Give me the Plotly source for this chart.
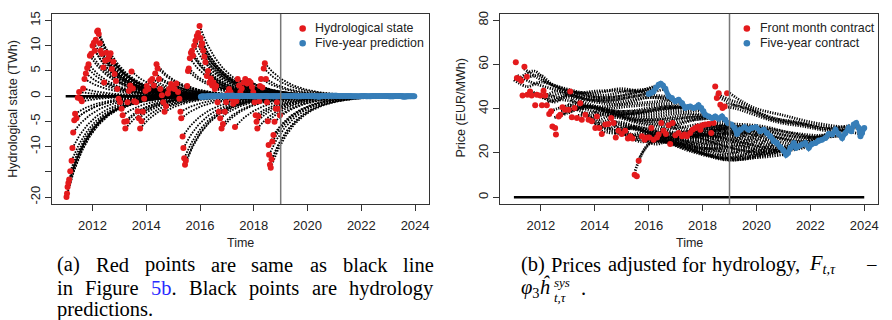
import numpy as np
import plotly.graph_objects as go

W, H = 892, 320

# ---------------- Panel (a): hydrological state ----------------
STATE_T = [2011.03, 2011.05, 2011.07, 2011.10, 2011.13, 2011.17, 2011.22, 2011.25, 2011.28, 2011.32,
           2011.35, 2011.40, 2011.45, 2011.50, 2011.55, 2011.60, 2011.65, 2011.70, 2011.75, 2011.80,
           2011.85, 2011.90, 2011.95, 2012.00, 2012.05, 2012.08, 2012.12, 2012.17, 2012.20, 2012.23,
           2012.27, 2012.30, 2012.35, 2012.40, 2012.43, 2012.47, 2012.52, 2012.57, 2012.62, 2012.67,
           2012.72, 2012.77, 2012.82, 2012.87, 2012.92, 2012.97, 2013.02, 2013.08, 2013.12, 2013.18,
           2013.22, 2013.27, 2013.30, 2013.35, 2013.40, 2013.45, 2013.50, 2013.55, 2013.62, 2013.68,
           2013.72, 2013.77, 2013.82, 2013.87, 2013.92, 2013.97, 2014.02, 2014.08, 2014.15, 2014.22,
           2014.28, 2014.33, 2014.38, 2014.42, 2014.47, 2014.52, 2014.58, 2014.63, 2014.68, 2014.73,
           2014.80, 2014.85, 2014.92, 2014.98, 2015.05, 2015.12, 2015.18, 2015.23, 2015.27, 2015.30,
           2015.35, 2015.38, 2015.41, 2015.44, 2015.47, 2015.52, 2015.55, 2015.58, 2015.62, 2015.66,
           2015.70, 2015.74, 2015.78, 2015.83, 2015.88, 2015.93, 2015.98, 2016.02, 2016.05, 2016.08,
           2016.12, 2016.16, 2016.20, 2016.25, 2016.30, 2016.35, 2016.40, 2016.45, 2016.50, 2016.55,
           2016.60, 2016.65, 2016.70, 2016.75, 2016.80, 2016.85, 2016.92, 2016.97, 2017.02, 2017.08,
           2017.13, 2017.18, 2017.23, 2017.30, 2017.35, 2017.40, 2017.45, 2017.50, 2017.55, 2017.62,
           2017.68, 2017.75, 2017.82, 2017.88, 2017.93, 2017.98, 2018.03, 2018.07, 2018.10, 2018.13,
           2018.17, 2018.20, 2018.23, 2018.27, 2018.32, 2018.37, 2018.41, 2018.45, 2018.49, 2018.52,
           2018.55, 2018.57, 2018.60, 2018.63, 2018.66, 2018.69, 2018.73, 2018.77, 2018.82, 2018.86,
           2018.92, 2018.97]
STATE_V = [-20.0, -19.3, -18.0, -17.2, -16.5, -14.9, -12.8, -10.3, -7.2, -4.8,
           -3.5, -4.4, -0.3, 0.8, -0.5, -1.0, 1.5, 3.4, 4.5, 5.6,
           6.3, 8.0, 8.4, 10.0, 10.6, 9.0, 11.2, 12.8, 13.0, 12.3,
           10.5, 9.0, 8.4, 5.7, 2.7, 7.0, 8.6, 7.3, 8.0, 8.5,
           5.4, 6.8, 4.4, 3.0, 1.4, -0.5, -1.2, -2.5, -3.8, -5.1,
           -6.4, -5.0, -1.2, 1.0, 2.1, 4.9, 1.5, -1.0, -1.2, -3.0,
           -4.4, -6.4, -5.0, -3.1, -0.5, 1.0, 2.0, 1.4, 3.0, 3.4,
           2.1, 4.5, 6.3, 5.5, 3.4, 1.4, 0.2, -1.2, -3.1, -2.0,
           0.5, 1.4, 2.4, 2.0, 1.4, 2.5, 0.8, -0.5, -3.1, -4.4,
           -8.0, -10.3, -12.3, -13.6, -12.8, 2.0, 5.0, 5.5, 7.5, 8.6,
           9.0, 8.0, 10.0, 11.0, 11.9, 12.5, 13.9, 11.5, 10.0, 10.5,
           9.0, 7.8, 6.7, 4.0, 5.0, 2.7, 3.5, 2.1, 2.7, 1.4,
           2.0, -1.2, -3.1, -4.4, -6.4, -5.5, -3.1, -1.2, 0.5, 1.4,
           0.8, -0.5, -1.5, -6.1, -1.0, 3.4, 2.1, 0.8, 1.5, 2.7,
           3.4, 2.5, 3.0, 2.7, 1.8, 0.8, -1.2, -3.8, -5.1, -6.4,
           -4.0, -1.0, 2.0, 3.4, 1.7, 5.5, 6.5, 3.4, -1.2, -5.0,
           -9.7, -11.6, -13.6, -14.2, -12.5, -9.0, -7.7, -5.1, -2.5, -1.2,
           -2.5, -3.8]

DECAY_YEARS = 0.95          # e-folding time of the hydrology forecast
PRED_STEP = 0.05            # forecast horizon step, years
PRED_MAX = 5.0              # five-year forecast horizon
PRE_T = [2011.0, 2016.0]    # five-year predictions issued before the sample
PRE_V = [0.0, 0.0]

# ---------------- Panel (b): hydrology-adjusted prices ----------------
FRONT_T = [2011.07, 2011.11, 2011.19, 2011.27, 2011.32, 2011.39, 2011.48, 2011.50, 2011.60, 2011.66,
           2011.79, 2011.85, 2011.98, 2012.04, 2012.10, 2012.16, 2012.22, 2012.31, 2012.38, 2012.43,
           2012.53, 2012.56, 2012.66, 2012.72, 2012.80, 2012.90, 2013.03, 2013.09, 2013.15, 2013.25,
           2013.34, 2013.46, 2013.52, 2013.65, 2013.77, 2013.89, 2014.02, 2014.08, 2014.17, 2014.26,
           2014.39, 2014.51, 2014.61, 2014.70, 2014.78, 2014.88, 2015.00, 2015.13, 2015.23, 2015.32,
           2015.40, 2015.48, 2015.56, 2015.63, 2015.75, 2015.85, 2015.94, 2016.02, 2016.10, 2016.18,
           2016.31, 2016.37, 2016.47, 2016.55, 2016.64, 2016.74, 2016.80, 2016.89, 2016.99, 2017.11,
           2017.24, 2017.33, 2017.42, 2017.54, 2017.63, 2017.73, 2017.83, 2017.92, 2018.00, 2018.10,
           2018.23, 2018.32, 2018.41, 2018.47, 2018.53, 2018.60, 2018.66, 2018.74, 2018.82, 2018.91]
FRONT_V = [61.0, 53.8, 53.5, 52.6, 46.0, 58.9, 54.4, 46.3, 47.8, 46.0,
           41.5, 46.3, 46.0, 41.5, 48.1, 46.0, 41.5, 37.6, 38.8, 32.0,
           31.3, 28.3, 36.5, 37.3, 40.6, 39.5, 39.5, 47.8, 36.1, 40.3,
           35.8, 42.5, 35.0, 37.3, 35.0, 34.3, 31.3, 36.5, 31.3, 28.6,
           32.8, 33.1, 35.8, 33.5, 27.0, 30.0, 28.6, 30.0, 26.5, 27.5,
           26.5, 10.2, 9.5, 16.5, 27.5, 26.0, 27.0, 27.0, 31.3, 26.0,
           27.0, 28.3, 33.5, 30.0, 28.6, 32.5, 24.0, 33.5, 28.0, 29.0,
           27.5, 28.3, 27.5, 29.0, 30.5, 31.3, 32.0, 30.5, 32.5, 32.8,
           33.1, 29.0, 33.5, 50.0, 44.8, 47.0, 41.8, 40.3, 41.0, 47.0]

FIVE_T = [2016.00, 2016.10, 2016.18, 2016.27, 2016.37, 2016.45, 2016.53, 2016.62, 2016.74, 2016.86,
          2016.99, 2017.11, 2017.24, 2017.36, 2017.45, 2017.54, 2017.67, 2017.76, 2017.85, 2017.95,
          2018.03, 2018.10, 2018.23, 2018.35, 2018.47, 2018.60, 2018.72, 2018.84, 2018.94, 2019.07,
          2019.19, 2019.28, 2019.40, 2019.56, 2019.71, 2019.83, 2019.98, 2020.14, 2020.27, 2020.39,
          2020.51, 2020.64, 2020.76, 2020.89, 2021.01, 2021.10, 2021.17, 2021.26, 2021.39, 2021.47,
          2021.57, 2021.69, 2021.81, 2021.94, 2022.06, 2022.19, 2022.31, 2022.43, 2022.56, 2022.68,
          2022.81, 2022.93, 2023.05, 2023.18, 2023.30, 2023.42, 2023.52, 2023.61, 2023.70, 2023.80,
          2023.86, 2023.92, 2024.00]
FIVE_V = [46.6, 47.2, 47.8, 49.5, 50.8, 51.3, 50.5, 49.0, 45.6, 44.8,
          43.3, 44.0, 42.5, 40.3, 40.8, 41.0, 40.3, 40.6, 41.5, 40.3,
          38.8, 37.3, 36.5, 35.8, 36.5, 35.5, 36.5, 35.0, 33.5, 32.8,
          31.3, 28.6, 30.5, 31.6, 30.5, 31.3, 31.6, 29.8, 30.5, 29.0,
          27.5, 25.3, 24.5, 22.6, 21.0, 19.2, 20.0, 22.3, 24.5, 22.3,
          23.0, 23.8, 24.5, 22.3, 24.0, 24.5, 25.6, 26.0, 26.8, 28.6,
          28.3, 30.5, 28.6, 26.8, 29.0, 31.3, 29.8, 32.8, 33.5, 31.3,
          27.5, 29.0, 31.3]

# Forward curves: issue date and prices at the knot horizons (years ahead)
FWD_KNOTS = [0.0, 0.5, 1.0, 2.0, 3.0, 4.0, 5.0]
FWD_START = [2011.000, 2011.125, 2011.250, 2011.375, 2011.500, 2011.625, 2011.750, 2011.875,
             2012.000, 2012.125, 2012.250, 2012.375, 2012.500, 2012.625, 2012.750, 2012.875,
             2013.000, 2013.125, 2013.250, 2013.375, 2013.500, 2013.625, 2013.750, 2013.875,
             2014.000, 2014.125, 2014.250, 2014.375, 2014.500, 2014.625, 2014.750, 2014.875,
             2015.000, 2015.125, 2015.250, 2015.375, 2015.500, 2015.625, 2015.750, 2015.875,
             2016.000, 2016.125, 2016.250, 2016.375, 2016.500, 2016.625, 2016.750, 2016.875,
             2017.000, 2017.125, 2017.250, 2017.375, 2017.500, 2017.625, 2017.750, 2017.875,
             2018.000, 2018.125, 2018.250, 2018.375, 2018.500, 2018.625, 2018.750, 2018.875,
             2019.000]
FWD_CURVES = [
    [53, 50, 52, 48, 47, 49, 46.6],
    [55, 52, 50, 47, 48, 48, 47.5],
    [54, 57, 52, 48, 46, 48, 49.0],
    [58, 54, 51, 47, 45, 47, 50.8],
    [54, 55, 50, 46, 45, 47, 51.0],
    [48, 46, 48, 45, 44, 46, 49.0],
    [47, 45, 47, 44, 44, 46, 45.5],
    [46, 44, 46, 44, 43, 45, 44.7],
    [46, 43, 46, 43, 42, 45, 43.3],
    [47, 45, 45, 41, 42, 43, 44.0],
    [43, 44, 43, 40, 41, 42, 42.5],
    [39, 41, 42, 39, 39, 41, 40.4],
    [36, 38, 40, 37, 38, 40, 41.0],
    [37, 39, 41, 38, 38, 40, 40.5],
    [39, 40, 41, 39, 39, 41, 40.8],
    [40, 41, 41, 38, 38, 40, 41.2],
    [42, 40, 41, 38, 37, 39, 39.0],
    [44, 41, 40, 37, 36, 38, 37.2],
    [40, 38, 39, 36, 35, 37, 36.5],
    [37, 37, 38, 35, 35, 36, 36.0],
    [38, 36, 38, 35, 34, 36, 36.3],
    [37, 35, 37, 34, 33, 35, 35.7],
    [35, 34, 36, 33, 32, 35, 36.3],
    [34, 33, 34, 31, 31, 33, 34.5],
    [33, 31, 33, 30, 29, 31, 33.0],
    [33, 30, 32, 29, 28, 30, 32.0],
    [30, 29, 31, 28, 27, 28, 29.5],
    [32, 30, 31, 28, 26, 27, 30.0],
    [34, 31, 32, 29, 27, 28, 31.0],
    [35, 32, 31, 27, 25, 27, 31.2],
    [29, 28, 29, 26, 24, 26, 30.8],
    [30, 28, 28, 25, 23, 25, 31.2],
    [29, 27, 28, 25, 22, 24, 31.5],
    [30, 27, 27, 24, 22, 23, 30.0],
    [27, 25, 26, 23, 21, 22, 30.3],
    [26, 26, 26, 22, 19, 21, 29.2],
    [12, 24, 25, 21, 18, 19, 27.6],
    [17, 25, 25, 21, 18, 18, 25.5],
    [26, 24, 25, 21, 17, 18, 24.6],
    [26, 25, 25, 21, 17, 18, 22.8],
    [27, 25, 25, 20, 17, 18, 21.0],
    [30, 27, 26, 21, 18, 18, 19.5],
    [28, 26, 26, 22, 19, 19, 22.0],
    [29, 27, 27, 23, 20, 20, 24.2],
    [31, 29, 28, 24, 21, 20, 22.5],
    [29, 28, 28, 24, 21, 21, 23.4],
    [32, 30, 29, 25, 22, 21, 24.0],
    [33, 31, 29, 26, 22, 21, 23.5],
    [29, 28, 28, 26, 23, 21, 23.0],
    [29, 28, 28, 26, 23, 22, 24.2],
    [28, 28, 29, 27, 24, 22, 25.0],
    [28, 28, 29, 28, 25, 23, 25.8],
    [29, 29, 30, 29, 26, 24, 26.5],
    [30, 30, 30, 29, 27, 25, 27.7],
    [31, 31, 31, 30, 27, 25, 28.4],
    [31, 31, 31, 30, 27, 26, 29.4],
    [32, 32, 32, 31, 28, 27, 29.5],
    [33, 32, 32, 31, 28, 27, 27.8],
    [33, 33, 33, 32, 29, 27, 28.0],
    [30, 31, 32, 31, 29, 28, 30.4],
    [47, 44, 42, 36, 34, 31, 30.0],
    [45, 42, 40, 35, 33, 31, 32.8],
    [41, 40, 38, 34, 32, 30, 32.0],
    [42, 41, 39, 35, 33, 31, 28.5],
    [47, 43, 40, 37, 34, 32, 31.0],
]
ZERO_T = [2011.0, 2024.0]
ZERO_V = [0.0, 0.0]

NOW = 2019.0
X_TICKS = [2012, 2014, 2016, 2018, 2020, 2022, 2024]
YA_TICKS = [-20, -15, -10, -5, 0, 5, 10, 15]
YA_TEXT = ["-20", "", "-10", "-5", "0", "5", "10", "15"]
YB_TICKS = [0, 20, 40, 60, 80]

RED = "#e41a1c"
BLUE = "#377eb8"
AXC = "#333333"
SANS = "Liberation Sans"
SERIF = "Liberation Serif"

# advance widths (1/1000 em) of the serif caption face
SERIF_W = {" ": 250, "(": 333, ")": 333, ".": 250, ",": 250, "5": 500,
           "a": 444, "b": 500, "c": 444, "d": 500, "e": 444, "f": 333, "g": 500, "h": 500,
           "i": 278, "j": 278, "k": 500, "l": 278, "m": 778, "n": 500, "o": 500, "p": 500,
           "r": 333, "s": 389, "t": 278, "u": 500, "y": 500,
           "B": 667, "F": 556, "P": 556, "R": 667}


def px(x):
    return x / W


def py(y):
    return 1 - y / H


fig = go.Figure()

# hydrology forecast fans: each state decays towards zero
h = np.arange(0, PRED_MAX + 1e-9, PRED_STEP)
fx, fy = [], []
for t0, v0 in zip(STATE_T, STATE_V):
    fx.extend(list(t0 + h) + [None])
    fy.extend(list(v0 * np.exp(-h / DECAY_YEARS)) + [None])
fig.add_trace(go.Scatter(x=fx, y=fy, mode="lines", xaxis="x", yaxis="y",
                         line=dict(color="black", width=1.8, dash="1.6px,1.3px"),
                         hoverinfo="skip", showlegend=False))
fig.add_trace(go.Scatter(x=PRE_T, y=PRE_V, mode="lines", xaxis="x", yaxis="y",
                         line=dict(color="black", width=2.5), showlegend=False))
fig.add_trace(go.Scatter(x=STATE_T, y=STATE_V, mode="markers", xaxis="x", yaxis="y",
                         marker=dict(color=RED, size=6), showlegend=False))
st = np.array(STATE_T)
sv = np.array(STATE_V)
fig.add_trace(go.Scatter(x=st + PRED_MAX, y=sv * np.exp(-PRED_MAX / DECAY_YEARS),
                         mode="lines+markers", xaxis="x", yaxis="y",
                         line=dict(color=BLUE, width=5), marker=dict(color=BLUE, size=6),
                         showlegend=False))

# forward curves
gx, gy = [], []
for t0, vals in zip(FWD_START, FWD_CURVES):
    gx.extend([t0 + k for k in FWD_KNOTS] + [None])
    gy.extend(list(vals) + [None])
fig.add_trace(go.Scatter(x=gx, y=gy, mode="lines", xaxis="x2", yaxis="y2",
                         line=dict(color="black", width=2.8, dash="1.2px,1.3px", shape="spline"),
                         hoverinfo="skip", showlegend=False))
fig.add_trace(go.Scatter(x=ZERO_T, y=ZERO_V, mode="lines", xaxis="x2", yaxis="y2",
                         line=dict(color="black", width=2.5), showlegend=False))
fig.add_trace(go.Scatter(x=FRONT_T, y=FRONT_V, mode="markers", xaxis="x2", yaxis="y2",
                         marker=dict(color=RED, size=6), showlegend=False))
fig.add_trace(go.Scatter(x=FIVE_T, y=FIVE_V, mode="lines+markers", xaxis="x2", yaxis="y2",
                         line=dict(color=BLUE, width=5), marker=dict(color=BLUE, size=6),
                         showlegend=False))

axis_common = dict(showline=True, mirror=True, linecolor=AXC, linewidth=1,
                   ticks="outside", ticklen=6, tickcolor=AXC, tickwidth=1,
                   showgrid=False, zeroline=False,
                   tickfont=dict(family=SANS, size=13, color="#222"))

fig.update_layout(
    width=W, height=H, autosize=False,
    margin=dict(l=0, r=0, t=0, b=0),
    paper_bgcolor="white", plot_bgcolor="white",
    xaxis=dict(domain=[px(52.3), px(429)], range=[2010.5, 2024.5], anchor="y",
               tickmode="array", tickvals=X_TICKS, ticklabelstandoff=3, **axis_common),
    yaxis=dict(domain=[py(203), py(11)], range=[-21.4, 16.3], anchor="x",
               tickmode="array", tickvals=YA_TICKS, ticktext=YA_TEXT, tickangle=-90,
               **axis_common),
    xaxis2=dict(domain=[px(501), px(878.7)], range=[2010.5, 2024.5], anchor="y2",
                tickmode="array", tickvals=X_TICKS, ticklabelstandoff=3, **axis_common),
    yaxis2=dict(domain=[py(203), py(11)], range=[-3.1, 82.8], anchor="x2",
                tickmode="array", tickvals=YB_TICKS, tickangle=-90, **axis_common),
)

shapes = [
    dict(type="line", xref="x", yref="y domain", x0=NOW, x1=NOW, y0=0, y1=1,
         line=dict(color="#777777", width=1.5)),
    dict(type="line", xref="x2", yref="y2 domain", x0=NOW, x1=NOW, y0=0, y1=1,
         line=dict(color="#777777", width=1.5)),
]
annotations = []


def legend_item(xd, xt, yc, color, text):
    shapes.append(dict(type="circle", xref="paper", yref="paper", xsizemode="pixel",
                       ysizemode="pixel", xanchor=px(xd), yanchor=py(yc),
                       x0=-3.3, x1=3.3, y0=-3.3, y1=3.3,
                       fillcolor=color, line=dict(color=color, width=0)))
    annotations.append(dict(text=text, xref="paper", yref="paper", x=px(xt), y=py(yc),
                            xanchor="left", yanchor="middle", showarrow=False,
                            font=dict(family=SANS, size=12.4, color="#222")))


legend_item(303, 313, 25.7, RED, "Hydrological state")
legend_item(303, 313, 40.7, BLUE, "Five-year prediction")
legend_item(747.7, 759, 25.7, RED, "Front month contract")
legend_item(747.7, 759, 40.7, BLUE, "Five-year contract")


def label(text, x, y, size=12.5, family=SANS, xanchor="center", angle=0, color="#222"):
    annotations.append(dict(text=text, xref="paper", yref="paper", x=px(x), y=py(y),
                            xanchor=xanchor, yanchor="middle", showarrow=False, textangle=angle,
                            font=dict(family=family, size=size, color=color)))


label("Time", 240.7, 242)
label("Time", 690, 242)
label("Hydrological state (TWh)", 12.7, 107, angle=-90)
label("Price (EUR/MWh)", 462, 106, angle=-90)

# captions, set as justified lines
CAP = 20.5


def serif_width(s, size):
    return sum(SERIF_W.get(c, 500) for c in s) * size / 1000


def justify(words, x0, x1, y):
    plain = [w if isinstance(w, str) else w[1] for w in words]
    shown = [w if isinstance(w, str) else w[0] for w in words]
    widths = [serif_width(p, CAP) for p in plain]
    gap = (x1 - x0 - sum(widths)) / (len(words) - 1)
    x = x0
    for s, wd in zip(shown, widths):
        label(s, x, y, size=CAP, family=SERIF, xanchor="left", color="black")
        x += wd + gap


justify(["(a)", "Red", "points", "are", "same", "as", "black", "line"], 55, 432, 264)
justify(["in", "Figure", ("<span style='color:#2a2aff'>5b</span>.", "5b."), "Black", "points",
         "are", "hydrology"], 55, 432, 288)
label("predictions.", 55, 309, size=CAP, family=SERIF, xanchor="left", color="black")

justify(["(b)", "Prices", "adjusted", "for", "hydrology,"], 520, 800, 264)
label("<i>F</i><sub><i>t,τ</i></sub>", 808, 264, size=CAP, family=SERIF, xanchor="left", color="black")
label("−", 881, 264, size=CAP, family=SERIF, xanchor="right", color="black")
label("<i>φ</i><sub>3</sub><i>ĥ</i>", 520, 288, size=CAP, family=SERIF, xanchor="left", color="black")
label("<i>sys</i>", 553, 282, size=13, family=SERIF, xanchor="left", color="black")
label("<i>t,τ</i>", 553, 297, size=13, family=SERIF, xanchor="left", color="black")
label(".", 580, 288, size=CAP, family=SERIF, xanchor="left", color="black")

fig.update_layout(shapes=shapes, annotations=annotations)
fig.write_html("out.html")
